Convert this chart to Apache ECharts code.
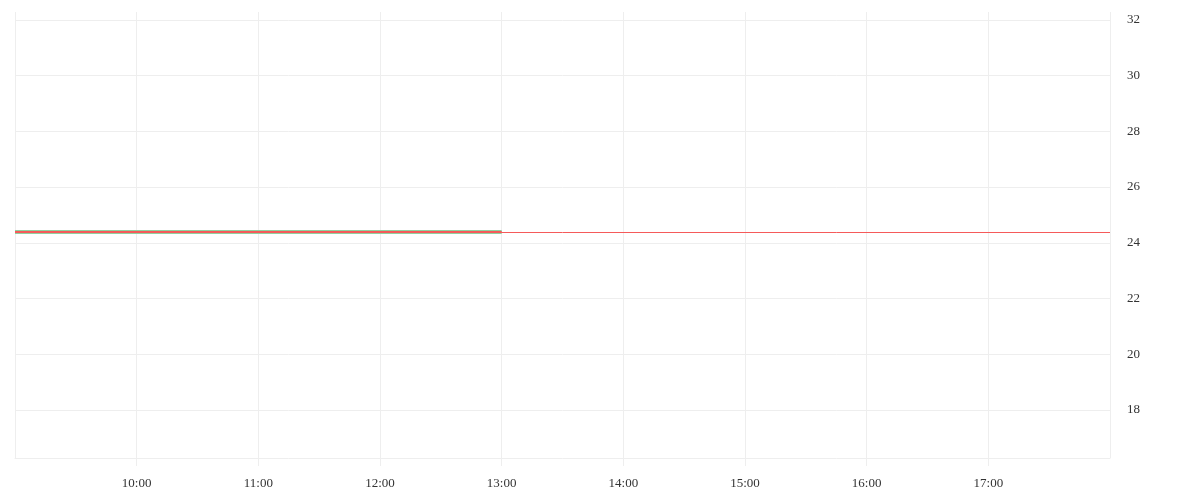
<!DOCTYPE html>
<html><head><meta charset="utf-8">
<script src="https://cdn.jsdelivr.net/npm/echarts@6/dist/echarts.min.js"></script>
<style>html,body{margin:0;padding:0;background:#fff}#c{width:1200px;height:500px}</style>
</head><body><div id="c"></div>
<script>
// time in minutes since midnight
const times = [540, 555, 570, 585, 600, 615, 630, 645, 660, 675, 690, 705, 720, 735, 750, 765, 780];
const prices = [24.39, 24.39, 24.39, 24.39, 24.39, 24.39, 24.39, 24.39, 24.39, 24.39, 24.39, 24.39, 24.39, 24.39, 24.39, 24.39, 24.39];
const avgPrices = [24.39, 24.39, 24.39, 24.39, 24.39, 24.39, 24.39, 24.39, 24.39, 24.39, 24.39, 24.39, 24.39, 24.39, 24.39, 24.39, 24.39];
const lastPrice = 24.39;
const xMin = 540, xMax = 1080;
const yMin = 16.28, yMax = 32.28;

function fmt(v){const h=Math.floor(v/60),m=v%60;return (h<10?'0':'')+h+':'+(m<10?'0':'')+m;}
const priceData = times.map((t,i)=>[t,prices[i]]);
const avgData = times.map((t,i)=>[t,avgPrices[i]]);
const font = 'Liberation Serif';
const chart = echarts.init(document.getElementById('c'));
chart.setOption({
  animation:false,
  grid:{left:15,right:90,top:12,bottom:42},
  xAxis:{type:'value',min:xMin,max:xMax,interval:60,
    axisLine:{show:true,lineStyle:{color:'#eeeeee'}},
    axisTick:{show:true,length:8,lineStyle:{color:'#eeeeee'}},
    splitLine:{show:true,lineStyle:{color:'#eeeeee'}},
    axisLabel:{margin:19,color:'#333',fontFamily:font,fontSize:13,showMinLabel:false,showMaxLabel:false,formatter:fmt}},
  yAxis:{type:'value',position:'right',min:yMin,max:yMax,splitNumber:8,
    axisLine:{show:false},axisTick:{show:false},
    splitLine:{show:true,showMinLine:false,showMaxLine:false,lineStyle:{color:'#eeeeee'}},
    axisLabel:{margin:17,padding:[4,0,0,0],color:'#333',fontFamily:font,fontSize:13,showMinLabel:false,showMaxLabel:false}},
  series:[
    {type:'line',data:[],symbol:'none',z:1,
      markLine:{silent:true,symbol:'none',label:{show:false},lineStyle:{color:'#f55a5a',width:1,type:'solid'},data:[{yAxis:lastPrice}]}},
    {type:'line',data:avgData,symbol:'none',lineStyle:{color:'#8fd09f',width:4},z:2},
    {type:'line',data:priceData,symbol:'none',lineStyle:{color:'#f55a5a',width:2},z:3}
  ]
});
</script></body></html>
